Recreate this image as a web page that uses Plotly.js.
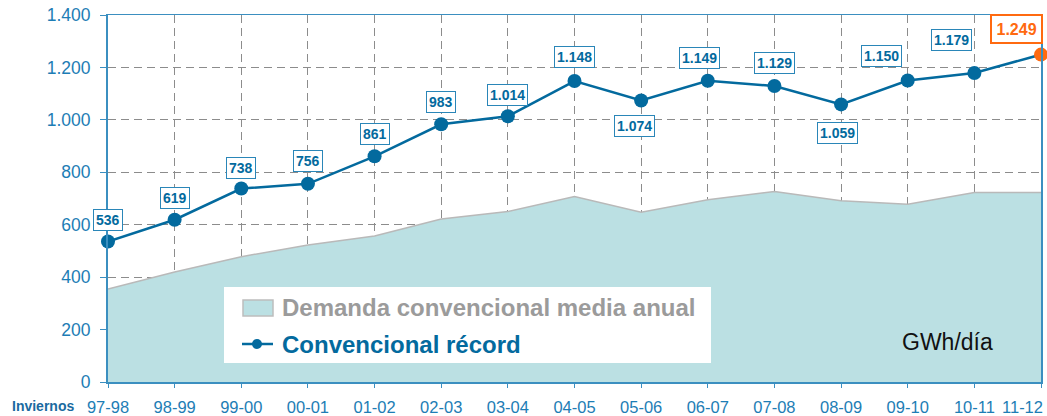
<!DOCTYPE html>
<html>
<head>
<meta charset="utf-8">
<script src="https://cdn.plot.ly/plotly-3.0.1.min.js"></script>
<style>html,body{margin:0;padding:0;background:#fff;}#chart{width:1047px;height:416px;}</style>
</head>
<body>
<div id="chart"></div>
<script>
// ---- data ----
var categories = ["97-98","98-99","99-00","00-01","01-02","02-03","03-04","04-05","05-06","06-07","07-08","08-09","09-10","10-11","11-12"];
var demandaMedia = [355, 420, 478, 523, 557, 622, 650, 708, 648, 695, 727, 691, 678, 723, 723];
var record = [536, 619, 738, 756, 861, 983, 1014, 1148, 1074, 1149, 1129, 1059, 1150, 1179, 1249];
var yTicks = [0, 200, 400, 600, 800, 1000, 1200, 1400];

// label offsets (pixels) for each record value label
var labelDx = [0,0,0,0,0,0,0,0,-7,-8,0,-4,-26,-23,-25];
var labelDy = [21,22,21,23,22,22,21,24,-26,23,23,-29,25,33,26];

var blue = '#036a9e';
var axisBlue = '#1d7db5';
var orange = '#ff6a10';
var fontFam = '"Liberation Sans", Arial, sans-serif';

var lastIdx = record.length - 1;
var markerColors = record.map(function(v, i){ return i === lastIdx ? orange : blue; });

function fmt(v){
  return v >= 1000 ? Math.floor(v/1000) + '.' + String(v % 1000).padStart(3,'0') : String(v);
}

var traces = [
  {
    x: categories, y: demandaMedia, type: 'scatter', mode: 'lines',
    fill: 'tozeroy', fillcolor: '#bbe0e3',
    line: {color: '#b9b9b9', width: 1.5},
    hoverinfo: 'skip', showlegend: false
  },
  {
    x: categories, y: record, type: 'scatter', mode: 'lines+markers',
    line: {color: blue, width: 2.5},
    marker: {color: markerColors, size: 14},
    cliponaxis: false, showlegend: false
  }
];

var annotations = record.map(function(v, i){
  var isLast = i === lastIdx;
  return {
    x: categories[i], y: v, xref: 'x', yref: 'y',
    text: fmt(v),
    showarrow: false,
    xshift: labelDx[i], yshift: labelDy[i],
    font: {family: fontFam, size: isLast ? 16 : 14, color: isLast ? orange : blue, weight: 'bold'},
    bgcolor: '#ffffff',
    bordercolor: isLast ? orange : '#2a86b8',
    borderwidth: isLast ? 2 : 1,
    borderpad: isLast ? 4.5 : 2
  };
});

var px = function(x){ return (x-108)/933; };
var py = function(y){ return (382-y)/367; };

// last category tick label (kept inside the page)
var tickText = categories.map(function(c, i){ return i === lastIdx ? '' : c; });
annotations.push({
  xref: 'paper', yref: 'paper', x: px(1045), y: py(407),
  xanchor: 'right', yanchor: 'middle', showarrow: false,
  text: categories[lastIdx],
  font: {family: fontFam, size: 16.5, color: axisBlue}
});

// legend (custom) and other texts
annotations.push({
  xref: 'paper', yref: 'paper', x: px(280), y: py(307.5),
  xanchor: 'left', yanchor: 'middle', showarrow: false,
  text: 'Demanda convencional media anual',
  font: {family: fontFam, size: 24, color: '#9b9b9b', weight: 'bold'}
});
annotations.push({
  xref: 'paper', yref: 'paper', x: px(280), y: py(344),
  xanchor: 'left', yanchor: 'middle', showarrow: false,
  text: 'Convencional récord',
  font: {family: fontFam, size: 24, color: blue, weight: 'bold'}
});
annotations.push({
  xref: 'paper', yref: 'paper', x: px(947.5), y: py(342),
  xanchor: 'center', yanchor: 'middle', showarrow: false,
  text: 'GWh/día',
  font: {family: fontFam, size: 23, color: '#111111'}
});
annotations.push({
  xref: 'paper', yref: 'paper', x: px(10), y: py(406),
  xanchor: 'left', yanchor: 'middle', showarrow: false,
  text: 'Inviernos',
  font: {family: fontFam, size: 14, color: '#1a6aa0', weight: 'bold'}
});

var shapes = [
  {type: 'rect', xref: 'paper', yref: 'paper', x0: px(224), x1: px(711), y0: py(363), y1: py(287),
   fillcolor: '#ffffff', line: {width: 0}, layer: 'above'},
  {type: 'rect', xref: 'paper', yref: 'paper', x0: px(243), x1: px(273), y0: py(316), y1: py(300),
   fillcolor: '#bbe0e3', line: {color: '#bdbdbd', width: 1.5}, layer: 'above'},
  {type: 'line', xref: 'paper', yref: 'paper', x0: px(242), x1: px(273), y0: py(344), y1: py(344),
   line: {color: blue, width: 2.5}, layer: 'above'},
  {type: 'circle', xref: 'paper', yref: 'paper', x0: px(252), x1: px(262), y0: py(349), y1: py(339),
   fillcolor: blue, line: {color: blue, width: 0}, layer: 'above'}
];

var layout = {
  width: 1047, height: 416,
  margin: {l: 108, r: 6, t: 15, b: 34, pad: 0},
  paper_bgcolor: '#ffffff', plot_bgcolor: '#ffffff',
  separators: ',.',
  showlegend: false,
  font: {family: fontFam},
  xaxis: {
    type: 'category', range: [0, categories.length - 1],
    tickmode: 'array', tickvals: categories, ticktext: tickText,
    showgrid: true, gridcolor: '#8c8c8c', griddash: '8px,5px', gridwidth: 1,
    showline: true, linecolor: '#3b8fc0', linewidth: 1.5, mirror: true,
    ticks: 'outside', ticklen: 4, tickcolor: '#3b8fc0',
    tickfont: {family: fontFam, size: 16.5, color: axisBlue},
    ticklabelstandoff: 6,
    zeroline: false, fixedrange: true
  },
  yaxis: {
    range: [0, 1400], tickvals: yTicks, tickformat: ',d',
    showgrid: true, gridcolor: '#8c8c8c', griddash: '8px,5px', gridwidth: 1,
    showline: true, linecolor: '#3b8fc0', linewidth: 2, mirror: true,
    ticks: 'outside', ticklen: 6, tickcolor: '#3b8fc0',
    tickfont: {family: fontFam, size: 17.5, color: axisBlue},
    ticklabelstandoff: 6,
    zeroline: false, fixedrange: true
  },
  annotations: annotations,
  shapes: shapes
};

Plotly.newPlot('chart', traces, layout, {displayModeBar: false, staticPlot: true});
</script>
</body>
</html>
